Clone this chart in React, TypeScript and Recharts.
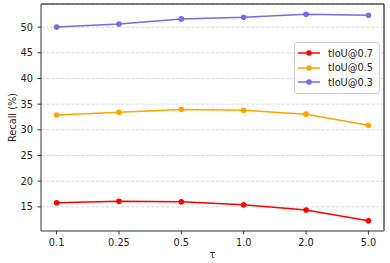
import { LineChart, Line, XAxis, YAxis, CartesianGrid, Legend, ReferenceLine } from "recharts";

const taus = ["0.1", "0.25", "0.5", "1.0", "2.0", "5.0"];
const tiou07 = [15.8, 16.1, 16.0, 15.4, 14.4, 12.3];
const tiou05 = [32.9, 33.4, 33.95, 33.8, 33.05, 30.9];
const tiou03 = [50.0, 50.6, 51.6, 51.9, 52.5, 52.3];
const yTicks = [15, 20, 25, 30, 35, 40, 45, 50];
const seriesNames = ["tIoU@0.7", "tIoU@0.5", "tIoU@0.3"];
const xDomain = [-0.25, taus.length - 0.75];
const yDomain = [10.3, 54.5];

const data = taus.map((t, i) => ({
  idx: i,
  tau: t,
  t07: tiou07[i],
  t05: tiou05[i],
  t03: tiou03[i],
}));

const FONT = "'DejaVu Sans', sans-serif";
const tickStyle = { fontSize: 9.75, fill: "#222", fontFamily: FONT };

function LegendBox({ payload }: any) {
  const items = (payload || [])
    .filter((p: any) => seriesNames.includes(p.value))
    .sort((a: any, b: any) => seriesNames.indexOf(a.value) - seriesNames.indexOf(b.value));
  return (
    <div
      style={{
        background: "rgba(255,255,255,0.85)",
        border: "1px solid #d0d0d0",
        borderRadius: 3,
        padding: "3px 6px 3px 3px",
        fontFamily: FONT,
        fontSize: 9.75,
        color: "#222",
      }}
    >
      {items.map((p: any) => (
        <div key={p.value} style={{ display: "flex", alignItems: "center", height: 14.5 }}>
          <svg width={22} height={8} style={{ marginRight: 8 }}>
            <line x1={0} y1={4} x2={22} y2={4} stroke={p.color} strokeWidth={1.5} />
            <circle cx={11} cy={4} r={2.8} fill={p.color} />
          </svg>
          <span>{p.value}</span>
        </div>
      ))}
    </div>
  );
}

export default function App() {
  return (
    <div style={{ position: "absolute", left: 0, top: 0, background: "#fff" }}>
      <LineChart width={390} height={263} data={data} margin={{ top: 4, right: 6, bottom: 0, left: 0 }}>
        <CartesianGrid vertical={false} stroke="#dcdcdc" strokeDasharray="3.5 1.5" />
        <XAxis
          dataKey="idx"
          type="number"
          domain={xDomain}
          ticks={taus.map((_, i) => i)}
          tickFormatter={(v: number) => taus[v]}
          allowDataOverflow
          height={32}
          tick={tickStyle}
          tickSize={3.5}
          tickMargin={5}
          tickLine={{ stroke: "#333" }}
          axisLine={{ stroke: "#777", strokeWidth: 1.5 }}
          label={{
            content: ({ viewBox }: any) => (
              <text
                x={viewBox.x + viewBox.width / 2}
                y={viewBox.y + 27}
                textAnchor="middle"
                style={{ fontSize: 9.75, fill: "#222", fontFamily: FONT }}
              >
                τ
              </text>
            ),
          }}
        />
        <YAxis
          type="number"
          domain={yDomain}
          ticks={yTicks}
          allowDataOverflow
          width={41}
          tick={tickStyle}
          tickSize={3.5}
          tickMargin={4.5}
          tickLine={{ stroke: "#333" }}
          axisLine={{ stroke: "#777", strokeWidth: 1.5 }}
          label={{
            content: ({ viewBox }: any) => {
              const cx = 12;
              const cy = viewBox.y + viewBox.height / 2;
              return (
                <text
                  x={cx}
                  y={cy}
                  textAnchor="middle"
                  dominantBaseline="central"
                  transform={`rotate(-90 ${cx} ${cy})`}
                  style={{ fontSize: 9.75, fill: "#222", fontFamily: FONT }}
                >
                  Recall (%)
                </text>
              );
            },
          }}
        />
        <ReferenceLine y={yDomain[1]} stroke="#000" strokeWidth={1} />
        <ReferenceLine x={xDomain[1]} stroke="#000" strokeWidth={1} />
        <Legend
          layout="vertical"
          verticalAlign="middle"
          align="center"
          wrapperStyle={{ top: 42, right: 10, left: "auto", width: "auto" }}
          content={<LegendBox />}
        />
        <Line dataKey="t07" name={seriesNames[0]} stroke="#ff0000" strokeWidth={1.5} dot={{ r: 2.8, fill: "#ff0000", strokeWidth: 0 }} activeDot={false} isAnimationActive={false} />
        <Line dataKey="t05" name={seriesNames[1]} stroke="#ffa500" strokeWidth={1.5} dot={{ r: 2.8, fill: "#ffa500", strokeWidth: 0 }} activeDot={false} isAnimationActive={false} />
        <Line dataKey="t03" name={seriesNames[2]} stroke="#7b68ee" strokeWidth={1.5} dot={{ r: 2.8, fill: "#7b68ee", strokeWidth: 0 }} activeDot={false} isAnimationActive={false} />
      </LineChart>
    </div>
  );
}
